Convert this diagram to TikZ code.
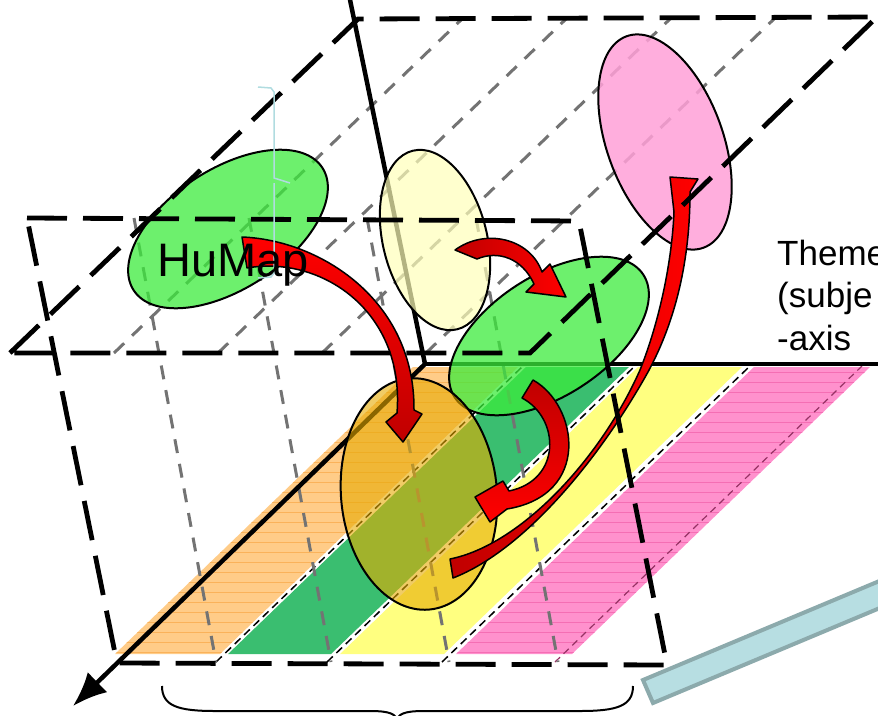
\documentclass[tikz,border=0pt]{standalone}
\usepackage{fontspec}
\setmainfont{Liberation Sans}
\usepackage{tikz}
\usetikzlibrary{arrows.meta}
\usetikzlibrary{shapes.geometric}
\definecolor{orgstripe}{RGB}{255,204,136}
\definecolor{orgline}{RGB}{250,178,90}
\definecolor{grnstripe}{RGB}{58,190,112}
\definecolor{yelstripe}{RGB}{255,255,128}
\definecolor{pnkstripe}{RGB}{255,145,205}
\definecolor{pnkline}{RGB}{245,110,180}
\definecolor{pnkdash}{RGB}{150,50,100}
\definecolor{blobgrn}{RGB}{60,235,60}
\definecolor{blobyel}{RGB}{255,255,185}
\definecolor{blobpnk}{RGB}{255,160,215}
\definecolor{bloborg}{RGB}{230,170,0}
\definecolor{dkred}{RGB}{192,0,0}
\definecolor{guide}{RGB}{115,115,115}
\definecolor{barfill}{RGB}{183,222,226}
\definecolor{bardraw}{RGB}{140,170,172}
\definecolor{hook}{RGB}{176,220,224}
\tikzstyle{frm} = [draw, line width=4.8pt, dash pattern=on 40pt off 16pt]
\tikzstyle{grd} = [draw, guide, line width=3pt, dash pattern=on 14pt off 11pt]
\tikzstyle{axs} = [draw, line width=4.5pt]
\tikzstyle{sepw} = [draw, white, line width=4pt]
\tikzstyle{sepd} = [draw, black, line width=1.5pt, dash pattern=on 8pt off 5pt]
\tikzstyle{blob} = [draw, line width=2pt, shape=ellipse, inner sep=0pt]
\tikzstyle{cva} = [draw=black, line width=1.5pt, line join=round]

\begin{document}
\begin{tikzpicture}[x=1pt,y=-1pt]
        \useasboundingbox (0,0) rectangle (878,715);
        \clip (0,0) rectangle (878,715);
        % corners
        \coordinate (o) at (425,364);
        \coordinate (vtop) at (348,-10);
        \coordinate (hend) at (890,364);
        \coordinate (tip) at (73,706);
        \coordinate (u1) at (10,353);
        \coordinate (u2) at (358,19);
        \coordinate (u3) at (877,17);
        \coordinate (u4) at (530,353);
        \coordinate (f1) at (27,218);
        \coordinate (f2) at (579,221);
        \coordinate (f3) at (667,665);
        \coordinate (f4) at (117,663);
        % floor stripes
        \fill[orgstripe] (115,654) -- (220,654) -- (518,367) -- (413,367) -- cycle;
        \begin{scope}
          \clip (115,654) -- (220,654) -- (518,367) -- (413,367) -- cycle;
          \foreach \yy in {372,382,...,652} \draw[orgline, line width=0.8pt] (100,\yy) -- (560,\yy);
        \end{scope}
        \fill[grnstripe] (228,654) -- (331,654) -- (629,367) -- (526,367) -- cycle;
        \fill[yelstripe] (340,654) -- (444,654) -- (742,367) -- (638,367) -- cycle;
        \fill[pnkstripe] (456,654) -- (572,654) -- (870,367) -- (754,367) -- cycle;
        \begin{scope}
          \clip (456,654) -- (572,654) -- (870,367) -- (754,367) -- cycle;
          \foreach \yy in {372,382,...,652} \draw[pnkline, line width=0.8pt] (440,\yy) -- (880,\yy);
        \end{scope}
        \foreach \xb/\xt in {216/523, 327/635, 442/750} {
          \draw[sepw] (\xb,662) -- (\xt,366);
          \draw[sepd] (\xb,662) -- (\xt,366);
        }
        \draw[pnkdash, line width=1.2pt, dash pattern=on 7pt off 5pt] (555,662) -- (862,366);
        % grey guide lines
        \foreach \xx in {114,218,322,426} \draw[grd] (\xx,353) -- ++(348,-334);
        \foreach \xx/\xy in {134/216,249/331,367/449,476/558} \draw[grd] (\xx,218) -- (\xy,662);
        % axes
        \draw[axs] (o) -- (vtop);
        \draw[axs] (o) -- (hend);
        \draw[axs, -{Latex[length=34pt,width=28pt]}] (o) -- (tip);
        % maps
        \node[blob, fill=blobgrn, fill opacity=0.75, minimum width=225pt, minimum height=120pt, rotate=33] (hum) at (228,229) {};
        \node[blob, fill=blobyel, fill opacity=0.7, minimum width=104pt, minimum height=184pt, rotate=14] (yel) at (435,240) {};
        \node[blob, fill=blobpnk, fill opacity=0.85, minimum width=116pt, minimum height=225pt, rotate=20] (pnk) at (665,142) {};
        \node[blob, fill=blobgrn, fill opacity=0.75, minimum width=225pt, minimum height=120pt, rotate=33] (grn) at (549,336) {};
        \node[blob, fill=bloborg, fill opacity=0.6, minimum width=156pt, minimum height=232pt, rotate=5] (org) at (419,494) {};
        % curved arrows
        \path[cva, top color=red, bottom color=dkred] (242,237) .. controls (320,240) and (415,300) .. (414,410)
          -- (422,414) -- (403,442) -- (386,422) -- (397,413) .. controls (405,310) and (320,255) .. (247,268) -- cycle;
        \path[cva, left color=dkred, right color=red] (455,250) .. controls (485,228) and (530,238) .. (542,272)
          -- (550,264) -- (566,297) -- (526,292) -- (534,284) .. controls (522,258) and (498,250) .. (477,259) -- cycle;
        \path[cva, top color=dkred, bottom color=red] (533,380) .. controls (578,405) and (592,495) .. (507,509)
          -- (490,522) -- (475,497) -- (503,481) -- (509,491) .. controls (562,480) and (560,418) .. (522,398) -- cycle;
        \path[cva, left color=dkred, right color=red] (450,559) .. controls (520,545) and (600,460) .. (640,370)
          .. controls (660,320) and (672,260) .. (674,212) -- (670,177) -- (698,179) -- (690,192)
          .. controls (690,260) and (676,320) .. (648,372) .. controls (600,458) and (525,550) .. (453,578) -- cycle;
        % planes
        \draw[frm] (u1) -- (u2) -- (u3) -- (u4) -- cycle;
        \draw[frm] (f1) -- (f2) -- (f3) -- (f4) -- cycle;
        % labels
        \draw[hook, line width=1.5pt] (258,87) -- (271,88) -- (274,92) -- (274,178) -- (290,183)
          (274,183) -- (274,273) -- (271,277) -- (258,278);
        \node[anchor=base west, font=\fontsize{47}{56}\selectfont, inner sep=0pt] (humlbl) at (157,276) {HuMap};
        \node[anchor=base west, font=\fontsize{35}{42}\selectfont, inner sep=0pt] (thm1) at (777,265) {Theme};
        \node[anchor=base west, font=\fontsize{35}{42}\selectfont, inner sep=0pt] (thm2) at (777,307) {(subje};
        \node[anchor=base west, font=\fontsize{35}{42}\selectfont, inner sep=0pt] (thm3) at (777,350) {-axis};
        % brace and bar
        \draw[line width=2pt] (162,686) .. controls (162,706) and (178,711) .. (215,711) -- (370,711)
          .. controls (390,711) and (397,714) .. (397,722);
        \draw[line width=2pt] (633,686) .. controls (633,706) and (617,711) .. (580,711) -- (424,711)
          .. controls (404,711) and (397,714) .. (397,722);
        \draw[fill=barfill, draw=bardraw, line width=4pt] (643,680) -- (920,564) -- (930,587) -- (653,703) -- cycle;
      \end{tikzpicture}
\end{document}
